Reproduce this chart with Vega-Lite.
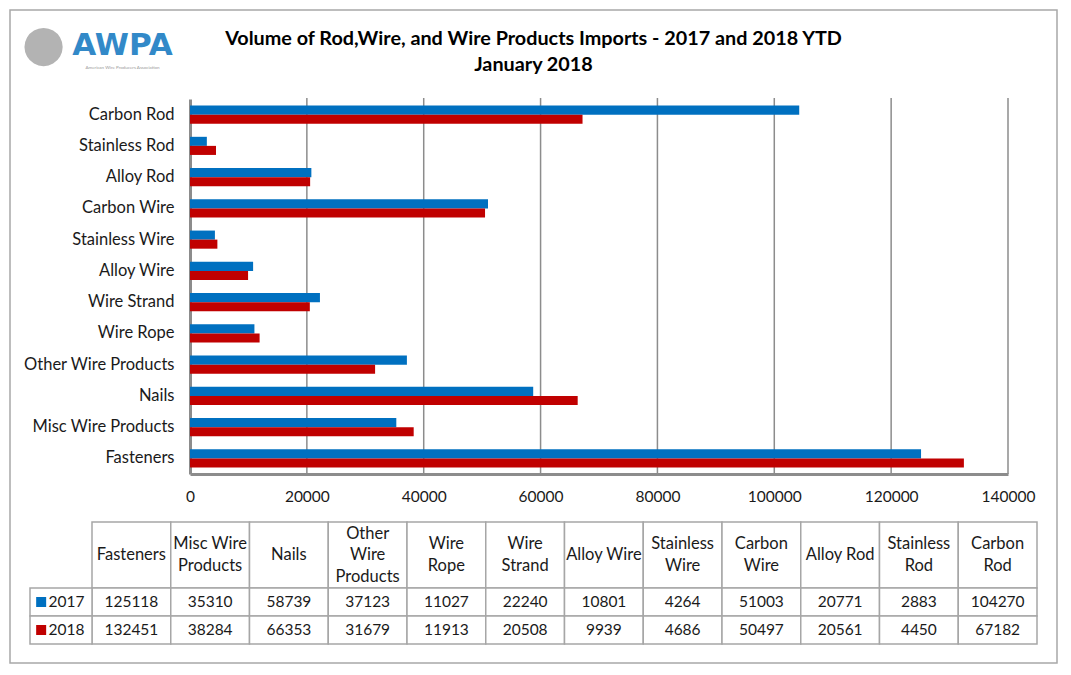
{
  "$schema": "https://vega.github.io/schema/vega-lite/v6.json",
  "width": 1047,
  "height": 653,
  "autosize": {"type": "none"},
  "padding": {"left": 10, "top": 10, "right": 14, "bottom": 12},
  "background": "white",
  "config": {
    "view": {"stroke": "#a8a8a8", "strokeWidth": 1.5},
    "font": "Lato"
  },
  "title": {
    "text": ["Volume of Rod,Wire, and Wire Products Imports - 2017 and 2018 YTD", "January 2018"],
    "anchor": "middle",
    "frame": "group",
    "font": "Lato",
    "fontSize": 19.8,
    "fontWeight": "bold",
    "color": "#000000",
    "lineHeight": 26,
    "baseline": "top",
    "offset": 0,
    "dy": 65
  },
  "datasets": {
    "imports": [
      {"product": "Fasteners", "year": "2017", "value": 125118},
      {"product": "Fasteners", "year": "2018", "value": 132451},
      {"product": "Misc Wire Products", "year": "2017", "value": 35310},
      {"product": "Misc Wire Products", "year": "2018", "value": 38284},
      {"product": "Nails", "year": "2017", "value": 58739},
      {"product": "Nails", "year": "2018", "value": 66353},
      {"product": "Other Wire Products", "year": "2017", "value": 37123},
      {"product": "Other Wire Products", "year": "2018", "value": 31679},
      {"product": "Wire Rope", "year": "2017", "value": 11027},
      {"product": "Wire Rope", "year": "2018", "value": 11913},
      {"product": "Wire Strand", "year": "2017", "value": 22240},
      {"product": "Wire Strand", "year": "2018", "value": 20508},
      {"product": "Alloy Wire", "year": "2017", "value": 10801},
      {"product": "Alloy Wire", "year": "2018", "value": 9939},
      {"product": "Stainless Wire", "year": "2017", "value": 4264},
      {"product": "Stainless Wire", "year": "2018", "value": 4686},
      {"product": "Carbon Wire", "year": "2017", "value": 51003},
      {"product": "Carbon Wire", "year": "2018", "value": 50497},
      {"product": "Alloy Rod", "year": "2017", "value": 20771},
      {"product": "Alloy Rod", "year": "2018", "value": 20561},
      {"product": "Stainless Rod", "year": "2017", "value": 2883},
      {"product": "Stainless Rod", "year": "2018", "value": 4450},
      {"product": "Carbon Rod", "year": "2017", "value": 104270},
      {"product": "Carbon Rod", "year": "2018", "value": 67182}
    ],
    "products": [
      {"product": "Fasteners", "header": "Fasteners"},
      {"product": "Misc Wire Products", "header": "Misc Wire\nProducts"},
      {"product": "Nails", "header": "Nails"},
      {"product": "Other Wire Products", "header": "Other\nWire\nProducts"},
      {"product": "Wire Rope", "header": "Wire\nRope"},
      {"product": "Wire Strand", "header": "Wire\nStrand"},
      {"product": "Alloy Wire", "header": "Alloy Wire"},
      {"product": "Stainless Wire", "header": "Stainless\nWire"},
      {"product": "Carbon Wire", "header": "Carbon\nWire"},
      {"product": "Alloy Rod", "header": "Alloy Rod"},
      {"product": "Stainless Rod", "header": "Stainless\nRod"},
      {"product": "Carbon Rod", "header": "Carbon\nRod"}
    ],
    "years": [{"year": "2017"}, {"year": "2018"}],
    "gridlines": [
      {"tick": 20000}, {"tick": 40000}, {"tick": 60000}, {"tick": 80000},
      {"tick": 100000}, {"tick": 120000}, {"tick": 140000}
    ]
  },
  "resolve": {
    "scale": {"x": "independent", "y": "independent"},
    "axis": {"x": "independent", "y": "independent"}
  },
  "layer": [
    {
      "data": {"name": "gridlines"},
      "mark": {"type": "rule", "color": "#8c8c8c", "strokeWidth": 1.5},
      "encoding": {
        "x": {"field": "tick", "type": "quantitative", "scale": {"domain": [0, 140000], "range": [180, 998], "nice": false}, "axis": null},
        "y": {"datum": 0, "type": "quantitative", "scale": {"domain": [0, 1], "range": [88, 464], "nice": false}, "axis": null},
        "y2": {"datum": 1}
      }
    },
    {
      "data": {"name": "imports"},
      "mark": {"type": "bar"},
      "encoding": {
        "y": {
          "field": "product",
          "type": "nominal",
          "scale": {
            "domain": ["Carbon Rod", "Stainless Rod", "Alloy Rod", "Carbon Wire", "Stainless Wire", "Alloy Wire", "Wire Strand", "Wire Rope", "Other Wire Products", "Nails", "Misc Wire Products", "Fasteners"],
            "range": [89, 464],
            "paddingInner": 0.42,
            "paddingOuter": 0.21
          },
          "axis": {
            "orient": "left",
            "offset": -180,
            "grid": false,
            "ticks": false,
            "domainColor": "#8c8c8c",
            "domainWidth": 3,
            "labelFontSize": 16.5,
            "labelFont": "Lato",
            "labelColor": "#1a1a1a",
            "labelPadding": 16,
            "title": "AWPA",
            "titleX": -68,
            "titleY": 44,
            "titleAngle": 0,
            "titleAlign": "center",
            "titleBaseline": "alphabetic",
            "titleFont": "DejaVu Sans",
            "titleFontWeight": "bold",
            "titleFontSize": 31,
            "titleColor": "#3289c8"
          }
        },
        "yOffset": {"field": "year", "type": "nominal", "scale": {"domain": ["2017", "2018"]}},
        "x": {
          "field": "value",
          "type": "quantitative",
          "scale": {"domain": [0, 140000], "range": [180, 998], "nice": false, "zero": true},
          "axis": {
            "orient": "bottom",
            "offset": -189,
            "values": [0, 20000, 40000, 60000, 80000, 100000, 120000, 140000],
            "format": "d",
            "grid": false,
            "ticks": false,
            "domainColor": "#8c8c8c",
            "domainWidth": 3,
            "labelFontSize": 15.5,
            "labelFont": "Lato",
            "labelColor": "#1a1a1a",
            "labelPadding": 15,
            "labelFlush": false,
            "labelOverlap": false,
            "title": "American Wire Producers Association",
            "titleX": 112,
            "titleY": -406,
            "titleAlign": "center",
            "titleBaseline": "alphabetic",
            "titleFontSize": 4.5,
            "titleFontWeight": "normal",
            "titleColor": "#9a9a9a"
          }
        },
        "color": {
          "field": "year",
          "type": "nominal",
          "scale": {"domain": ["2017", "2018"], "range": ["#0070c0", "#c00000"]},
          "legend": null
        }
      }
    },
    {
      "data": {"name": "products"},
      "encoding": {
        "x": {
          "field": "product",
          "type": "nominal",
          "scale": {
            "domain": ["Fasteners", "Misc Wire Products", "Nails", "Other Wire Products", "Wire Rope", "Wire Strand", "Alloy Wire", "Stainless Wire", "Carbon Wire", "Alloy Rod", "Stainless Rod", "Carbon Rod"],
            "range": [82, 1027],
            "paddingInner": 0,
            "paddingOuter": 0
          },
          "axis": null
        },
        "y": {
          "datum": "header",
          "type": "nominal",
          "scale": {"domain": ["header"], "range": [512, 578], "paddingInner": 0, "paddingOuter": 0},
          "axis": null
        }
      },
      "layer": [
        {"mark": {"type": "rect", "fill": "white", "stroke": "#a6a6a6", "strokeWidth": 1.5}},
        {
          "transform": [{"filter": "length(split(datum.header, '\\n')) == 1"}],
          "mark": {"type": "text", "font": "Lato", "fontSize": 16.5, "lineBreak": "\n", "lineHeight": 21.5, "color": "#1a1a1a"},
          "encoding": {"text": {"field": "header", "type": "nominal"}}
        },
        {
          "transform": [{"filter": "length(split(datum.header, '\\n')) == 2"}],
          "mark": {"type": "text", "font": "Lato", "fontSize": 16.5, "lineBreak": "\n", "lineHeight": 21.5, "dy": -10.75, "color": "#1a1a1a"},
          "encoding": {"text": {"field": "header", "type": "nominal"}}
        },
        {
          "transform": [{"filter": "length(split(datum.header, '\\n')) == 3"}],
          "mark": {"type": "text", "font": "Lato", "fontSize": 16.5, "lineBreak": "\n", "lineHeight": 21.5, "dy": -21.5, "color": "#1a1a1a"},
          "encoding": {"text": {"field": "header", "type": "nominal"}}
        }
      ]
    },
    {
      "data": {"name": "imports"},
      "encoding": {
        "x": {
          "field": "product",
          "type": "nominal",
          "scale": {
            "domain": ["Fasteners", "Misc Wire Products", "Nails", "Other Wire Products", "Wire Rope", "Wire Strand", "Alloy Wire", "Stainless Wire", "Carbon Wire", "Alloy Rod", "Stainless Rod", "Carbon Rod"],
            "range": [82, 1027],
            "paddingInner": 0,
            "paddingOuter": 0
          },
          "axis": null
        },
        "y": {
          "field": "year",
          "type": "nominal",
          "scale": {"domain": ["2017", "2018"], "range": [578, 634], "paddingInner": 0, "paddingOuter": 0},
          "axis": null
        }
      },
      "layer": [
        {"mark": {"type": "rect", "fill": "white", "stroke": "#a6a6a6", "strokeWidth": 1.5}},
        {
          "mark": {"type": "text", "font": "Lato", "fontSize": 15.5, "color": "#1a1a1a"},
          "encoding": {"text": {"field": "value", "type": "quantitative", "format": "d"}}
        }
      ]
    },
    {
      "data": {"name": "years"},
      "encoding": {
        "y": {
          "field": "year",
          "type": "nominal",
          "scale": {"domain": ["2017", "2018"], "range": [578, 634], "paddingInner": 0, "paddingOuter": 0},
          "axis": {
            "orient": "left",
            "labels": false,
            "ticks": false,
            "domain": false,
            "grid": false,
            "title": "●",
            "titleX": 33,
            "titleY": 34,
            "titleAngle": 0,
            "titleAlign": "center",
            "titleBaseline": "middle",
            "titleFont": "DejaVu Sans",
            "titleFontSize": 50,
            "titleFontWeight": "normal",
            "titleColor": "#b3b3b3"
          }
        }
      },
      "layer": [
        {
          "mark": {"type": "rect", "fill": "white", "stroke": "#a6a6a6", "strokeWidth": 1.5},
          "encoding": {
            "x": {"datum": "legend", "type": "nominal", "scale": {"domain": ["legend"], "range": [20, 82], "paddingInner": 0, "paddingOuter": 0}, "axis": null}
          }
        },
        {
          "mark": {"type": "point", "shape": "square", "filled": true, "size": 100, "opacity": 1},
          "encoding": {
            "x": {"datum": "legend", "type": "nominal", "bandPosition": 0.18, "scale": {"domain": ["legend"], "range": [20, 82], "paddingInner": 0, "paddingOuter": 0}, "axis": null},
            "color": {"field": "year", "type": "nominal", "legend": null}
          }
        },
        {
          "mark": {"type": "text", "font": "Lato", "fontSize": 15.5, "align": "left", "color": "#1a1a1a"},
          "encoding": {
            "x": {"datum": "legend", "type": "nominal", "bandPosition": 0.3, "scale": {"domain": ["legend"], "range": [20, 82], "paddingInner": 0, "paddingOuter": 0}, "axis": null},
            "text": {"field": "year", "type": "nominal"}
          }
        }
      ]
    }
  ]
}
